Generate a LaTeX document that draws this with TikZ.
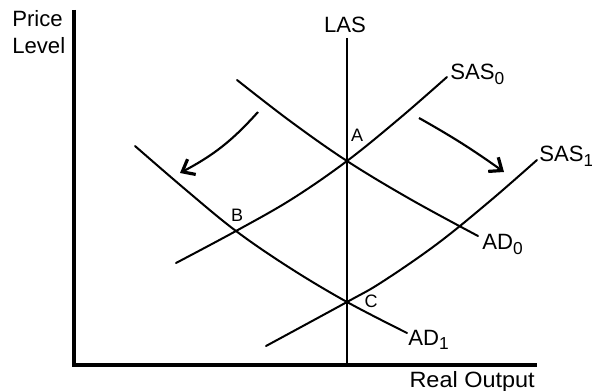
\documentclass[tikz,border=0pt]{standalone}
\usepackage{fontspec}
\setmainfont{Liberation Sans}
\usetikzlibrary{arrows.meta}
\newcommand\subsc[1]{\raisebox{-3.5pt}{\fontsize{13}{15}\selectfont #1}}
\tikzset{
  lbl/.style={inner sep=0pt, font=\fontsize{16.6}{19}\selectfont},
  pt/.style={inner sep=0pt, font=\fontsize{13.5}{15}\selectfont},
  curve/.style={line width=1.5pt, line cap=round, line join=round},
  axis/.style={line width=3pt},
  shift arrow/.style={line width=1.6pt, -{Straight Barb[length=8pt,width=13pt,line width=2.4pt]}}
}
\begin{document}
\begin{tikzpicture}[x=0.75pt,y=-0.75pt]
\useasboundingbox (0,0) rectangle (592,391);
% intersection points
\coordinate (A) at (347,161);
\coordinate (B) at (236,231);
\coordinate (C) at (347,302);
% axes
\coordinate (origin) at (73.5,365);
\coordinate (ytop) at (73.5,10);
\coordinate (xend) at (537,365);
\draw[axis] (ytop) -- (origin) -- (xend);
% LAS
\coordinate (lastop) at (347,38);
\coordinate (lasbot) at (347,365);
\draw[line width=2.2pt] (lastop) -- (lasbot);
% AD0
\draw[curve] plot[smooth, tension=0.6] coordinates {(237,80) (290,121) (A) (410,199) (478,236)};
% AD1
\draw[curve] plot[smooth, tension=0.6] coordinates {(135,146) (186,190) (B) (290,268) (C) (407,333)};
% SAS0
\draw[curve] plot[smooth, tension=0.6] coordinates {(176,263) (B) (292,199) (A) (400,118) (447,77)};
% SAS1
\draw[curve] plot[smooth, tension=0.6] coordinates {(266,346) (C) (382,282) (437,244) (490,201) (537,160)};
% shift arrows
\coordinate (la0) at (258,112);
\coordinate (la1) at (180,173);
\draw[shift arrow] (la0) to[bend left=10] (la1);
\coordinate (ra0) at (419,118);
\coordinate (ra1) at (504,172);
\draw[shift arrow] (ra0) to[bend left=3] (ra1);
% labels
\node[lbl, anchor=base west] (price) at (12,27) {Price};
\node[lbl, anchor=base west] (level) at (12,54) {Level};
\node[lbl, anchor=base] (las) at (345,33) {LAS};
\node[lbl, anchor=base west] (sas0) at (450,80) {SAS\subsc{0}};
\node[lbl, anchor=base west] (sas1) at (539,162) {SAS\subsc{1}};
\node[lbl, anchor=base west] (ad0) at (482,250) {AD\subsc{0}};
\node[lbl, anchor=base west] (ad1) at (408,345) {AD\subsc{1}};
\node[lbl, anchor=base east] (xlab) at (535,387) {\scalebox{1.06}[1]{Real Output}};
\node[pt, anchor=base] (alab) at (357,142) {A};
\node[pt, anchor=base] (blab) at (237,222) {B};
\node[pt, anchor=base] (clab) at (371,308) {C};
\end{tikzpicture}
\end{document}
